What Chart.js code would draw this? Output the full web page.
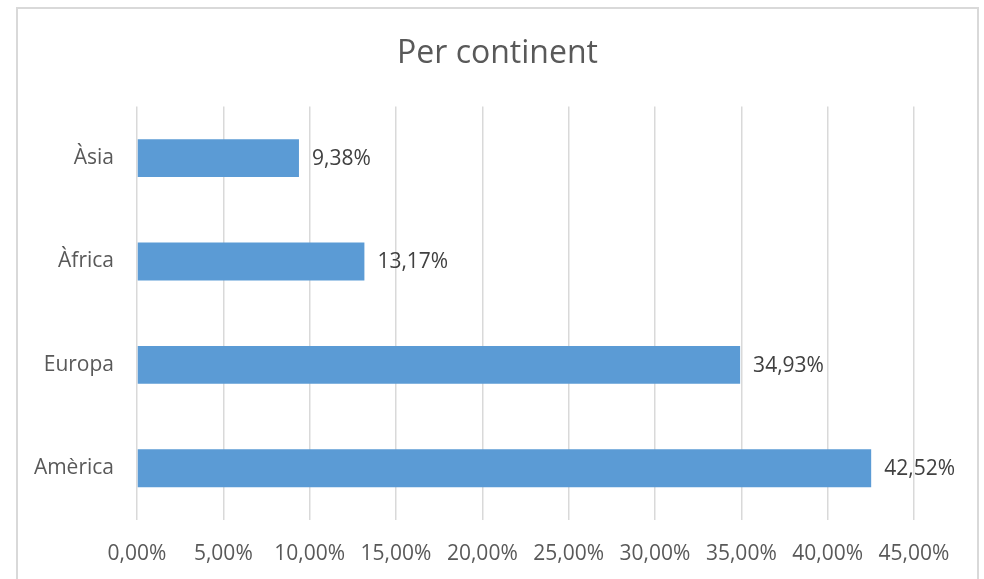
<!DOCTYPE html>
<html>
<head>
<meta charset="utf-8">
<script src="https://cdn.jsdelivr.net/npm/chart.js@4/dist/chart.umd.min.js"></script>
<style>
  html, body { margin: 0; padding: 0; width: 984px; height: 579px; overflow: hidden; background: #fff; }
  .frame {
    position: absolute; left: 16px; top: 7px;
    width: 963px; height: 600px;
    box-sizing: border-box;
    border: 2px solid #d9d9d9;
  }
  .frame canvas { display: block; }
</style>
</head>
<body>
<div class="frame">
  <canvas class="bar-chart" width="959" height="570" style="width:959px;height:570px"></canvas>
</div>
<script>
// continents, top to bottom as in the picture
const continents = ['Àsia', 'Àfrica', 'Europa', 'Amèrica'];

// share of each continent, in percent
const shares = [9.38, 13.17, 34.93, 42.52];

// x axis ticks (percent)
const tickValues = [0, 5, 10, 15, 20, 25, 30, 35, 40, 45];

const textColor = '#595959';
const fontFamily = '"Open Sans", "Noto Sans", sans-serif';

// format like 42,52%
const pct = (v) => v.toFixed(2).replace('.', ',') + '%';

// write the value just after the end of each bar
const valueLabels = {
  id: 'valueLabels',
  afterDatasetsDraw(chart) {
    const ctx = chart.ctx;
    const meta = chart.getDatasetMeta(0);
    ctx.save();
    ctx.font = '21px ' + fontFamily;
    ctx.fillStyle = '#404040';
    ctx.textAlign = 'left';
    ctx.textBaseline = 'middle';
    meta.data.forEach((bar, i) => {
      ctx.fillText(pct(shares[i]), bar.x + 13, bar.y + 1);
    });
    ctx.restore();
  },
};

const renderChart = () => {
  const canvas = document.querySelector('.bar-chart');

  new Chart(canvas, {
    type: 'bar',
    data: {
      labels: continents,
      datasets: [
        {
          label: 'Per continent',
          data: shares,
          backgroundColor: '#5b9bd5',
          borderWidth: 0,
          barPercentage: 0.367,
          categoryPercentage: 1,
        },
      ],
    },
    options: {
      indexAxis: 'y',
      responsive: false,
      animation: false,
      layout: {
        padding: 0,
      },
      plugins: {
        legend: { display: false },
        tooltip: { enabled: false },
        title: {
          display: true,
          text: 'Per continent',
          color: textColor,
          font: { family: fontFamily, size: 32, weight: 'normal' },
          padding: { top: 26, bottom: 33 },
        },
      },
      scales: {
        x: {
          min: 0,
          max: 45,
          afterBuildTicks: (scale) => {
            scale.ticks = tickValues.map((v) => ({ value: v }));
          },
          afterFit: (scale) => {
            scale.height = 59;
          },
          grid: { color: '#d9d9d9', lineWidth: 1.5, drawTicks: false },
          border: { display: false },
          ticks: {
            color: textColor,
            padding: 21,
            maxRotation: 0,
            font: { family: fontFamily, size: 21 },
            callback: (v) => pct(v),
          },
        },
        y: {
          afterFit: (scale) => {
            scale.width = 119;
          },
          grid: { display: false, drawTicks: false },
          border: { display: false },
          ticks: {
            color: textColor,
            padding: 23,
            font: { family: fontFamily, size: 21 },
          },
        },
        // empty strip on the right so the plot ends where the picture does
        spacer: {
          type: 'linear',
          axis: 'y',
          position: 'right',
          afterFit: (scale) => {
            scale.width = 63;
          },
          grid: { display: false, drawTicks: false },
          border: { display: false },
          ticks: { display: false },
        },
      },
    },
    plugins: [valueLabels],
  });
};

renderChart();
</script>
</body>
</html>
